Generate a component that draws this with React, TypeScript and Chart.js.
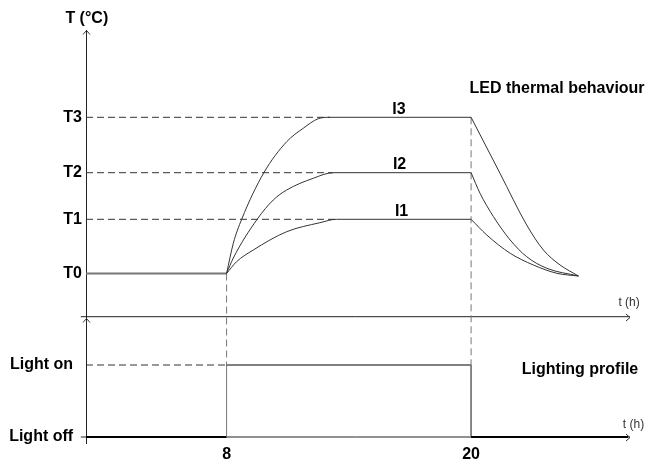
import React, { useEffect, useRef } from "react";
import { Chart, registerables } from "chart.js";

Chart.register(...registerables);

const FONT = '"Liberation Sans", Arial, Helvetica, sans-serif';

// ---- time axis (hours) ----
const tMin = 1.1;
const tMax = 27.8;
const tAxisStart = 0.844;
const xTickValues = [8, 20];
const lightOnTime = 8;
const lightOffTime = 20;

// ---- vertical levels (schematic units) ----
const yMin = 0;
const yMax = 413;
const yTickValues = [6, 78, 169.5, 223.7, 270.3, 325.7];
const yTickLabels = ["Light off", "Light on", "T0", "T1", "T2", "T3"];
const lightOff = 6;
const lightOn = 78;
const T0 = 169.5;
const T1 = 223.7;
const T2 = 270.3;
const T3 = 325.7;
const upperAxisLevel = 126.3;

// ---- curves: rise + plateau ----
const i3RiseX = [8, 8.33, 8.74, 9.83, 10.95, 11.76, 12.5, 13.07, 20];
const i3RiseY = [169.5, 199.7, 223.7, 270.3, 301.3, 314.7, 324.3, 325.7, 325.7];
const i2RiseX = [8, 8.33, 9.5, 10.29, 10.95, 12.25, 13.24, 20];
const i2RiseY = [169.5, 185, 223.7, 243, 253, 264.7, 270.3, 270.3];
const i1RiseX = [8, 8.49, 9.31, 10.95, 12.58, 13.4, 20];
const i1RiseY = [169.5, 181.3, 193, 211.3, 220.3, 223.7, 223.7];

// ---- curves: decay ----
const i3DecayX = [20, 21.42, 22.73, 23.55, 24.37, 25.27];
const i3DecayY = [325.7, 269.7, 218, 193, 178, 167];
const i2DecayX = [20, 20.44, 21.1, 21.92, 22.73, 23.72, 25.27];
const i2DecayY = [270.3, 249.7, 226.3, 203, 186.3, 174.7, 167];
const i1DecayX = [20, 20.77, 21.92, 23.06, 24.21, 25.27];
const i1DecayY = [223.7, 208, 189.7, 178, 169.7, 167];

// plateau starts (end of dashed level lines)
const plateauStart = [13.4, 13.24, 13.07];

// ---- annotation texts ----
const noteTexts = ["T (°C)", "LED thermal behaviour", "Lighting profile", "t (h)", "t (h)", "I3", "I2", "I1"];
const noteX = [1.14, 19.92, 22.49, 27.23, 27.45, 16.46, 16.49, 16.59];
const noteY = [420, 349.7, 69, 137, 15, 329, 274, 227.3];
const noteAlign = ["center", "left", "left", "left", "left", "center", "center", "center"];
const noteSize = [16, 16, 16, 12, 12, 16, 16, 16];
const noteBold = [true, true, true, false, false, true, true, true];

const mk = (xs: number[], ys: number[]) => xs.map((x, i) => ({ x, y: ys[i] }));

const DASH = [7, 4];

const line = (data: any, color: string, width: number, extra: any = {}) => ({
  data,
  borderColor: color,
  borderWidth: width,
  pointRadius: 0,
  fill: false,
  tension: 0,
  ...extra,
});

const arrowsAndNotes = {
  id: "arrowsAndNotes",
  afterDatasetsDraw(chart: any) {
    const { ctx, scales } = chart;
    const xs = scales.x;
    const ys = scales.y;
    ctx.save();
    ctx.strokeStyle = "#333";
    ctx.lineWidth = 1;
    const ax = Math.round(xs.getPixelForValue(tMin)) + 0.5;
    const drawUp = (yv: number) => {
      const py = Math.round(ys.getPixelForValue(yv)) + 0.5;
      ctx.beginPath();
      ctx.moveTo(ax - 3.5, py + 4);
      ctx.lineTo(ax, py);
      ctx.lineTo(ax + 3.5, py + 4);
      ctx.stroke();
    };
    drawUp(yMax);
    drawUp(upperAxisLevel - 1.5);
    const rx = xs.getPixelForValue(tMax);
    const drawRight = (yv: number) => {
      const py = Math.round(ys.getPixelForValue(yv)) + 0.5;
      ctx.beginPath();
      ctx.moveTo(rx - 4, py - 3.5);
      ctx.lineTo(rx, py);
      ctx.lineTo(rx - 4, py + 3.5);
      ctx.stroke();
    };
    drawRight(upperAxisLevel);
    drawRight(lightOff);

    noteTexts.forEach((t, i) => {
      ctx.font = `${noteBold[i] ? "bold " : ""}${noteSize[i]}px ${FONT}`;
      ctx.fillStyle = noteBold[i] ? "#000" : "#333";
      ctx.textAlign = noteAlign[i] as CanvasTextAlign;
      ctx.textBaseline = "alphabetic";
      ctx.fillText(t, xs.getPixelForValue(noteX[i]), ys.getPixelForValue(noteY[i]));
    });
    ctx.restore();
  },
};

export default function App() {
  const ref = useRef<HTMLCanvasElement | null>(null);

  useEffect(() => {
    if (!ref.current) return;
    const curveColor = "#333";
    const chart = new Chart(ref.current, {
      type: "line",
      data: {
        datasets: [
          // I curves
          line(mk(i3RiseX, i3RiseY), curveColor, 1, { cubicInterpolationMode: "monotone" }),
          line(mk(i2RiseX, i2RiseY), curveColor, 1, { cubicInterpolationMode: "monotone" }),
          line(mk(i1RiseX, i1RiseY), curveColor, 1, { cubicInterpolationMode: "monotone" }),
          line(mk(i3DecayX, i3DecayY), curveColor, 1, { cubicInterpolationMode: "monotone" }),
          line(mk(i2DecayX, i2DecayY), curveColor, 1, { cubicInterpolationMode: "monotone" }),
          line(mk(i1DecayX, i1DecayY), curveColor, 1, { cubicInterpolationMode: "monotone" }),
          // T0 base line
          line(mk([tMin, lightOnTime], [T0, T0]), "#777", 2),
          // level dashed lines
          line(mk([tMin, plateauStart[2]], [T3, T3]), "#333", 1, { borderDash: DASH }),
          line(mk([tMin, plateauStart[1]], [T2, T2]), "#333", 1, { borderDash: DASH }),
          line(mk([tMin, plateauStart[0]], [T1, T1]), "#333", 1, { borderDash: DASH }),
          line(mk([tMin, lightOnTime], [lightOn, lightOn]), "#333", 1, { borderDash: DASH }),
          // vertical dashed lines
          line(mk([lightOnTime, lightOnTime], [T0, lightOn]), "#777", 1, { borderDash: DASH }),
          line(mk([lightOffTime, lightOffTime], [T3, lightOn]), "#777", 1, { borderDash: DASH }),
          // lighting profile
          line(
            mk([tMin, lightOnTime, lightOnTime, lightOffTime, lightOffTime, tMax - 0.1], [lightOff, lightOff, lightOn, lightOn, lightOff, lightOff]),
            "#000",
            1,
            {
              segment: {
                borderWidth: (c: any) => (c.p0DataIndex === 0 || c.p0DataIndex === 4 ? 2 : 1),
                borderColor: (c: any) => (c.p0DataIndex === 1 || c.p0DataIndex === 3 ? "#777" : "#000"),
              },
            }
          ),
          // time axes
          line(mk([tAxisStart, tMax], [upperAxisLevel, upperAxisLevel]), "#222", 1, { clip: false }),
          line(mk([tAxisStart, tMax], [lightOff, lightOff]), "#222", 1, { clip: false }),
        ],
      },
      options: {
        animation: false,
        responsive: false,
        layout: { padding: { left: 0, top: 30, right: 19, bottom: 0 } },
        plugins: { legend: { display: false }, tooltip: { enabled: false } },
        scales: {
          x: {
            type: "linear",
            min: tMin,
            max: tMax,
            grid: { display: false, drawTicks: false },
            border: { display: false },
            afterBuildTicks: (s: any) => {
              s.ticks = xTickValues.map((v) => ({ value: v }));
            },
            afterFit: (s: any) => {
              s.height = 21;
            },
            ticks: {
              autoSkip: false,
              maxRotation: 0,
              padding: 2,
              color: "#000",
              font: { family: FONT, size: 16, weight: "bold" },
              callback: (v: any) => String(v),
            },
          },
          y: {
            type: "linear",
            min: yMin,
            max: yMax,
            grid: { display: false, drawTicks: false },
            border: { display: true, color: "#222", width: 1 },
            afterBuildTicks: (s: any) => {
              s.ticks = yTickValues.map((v) => ({ value: v }));
            },
            afterFit: (s: any) => {
              s.width = 86;
            },
            ticks: {
              autoSkip: false,
              padding: 4,
              color: "#000",
              font: { family: FONT, size: 16, weight: "bold" },
              callback: (v: any) => {
                const lbl = yTickLabels[yTickValues.indexOf(Number(v))] ?? "";
                return lbl.startsWith("Light") ? lbl + "  " : lbl;
              },
            },
          },
        },
      },
      plugins: [arrowsAndNotes],
    } as any);
    return () => chart.destroy();
  }, []);

  return (
    <div style={{ position: "fixed", left: 0, top: 0, width: 649, height: 464, background: "#fff" }}>
      <canvas ref={ref} width={649} height={464} style={{ display: "block" }} />
    </div>
  );
}
